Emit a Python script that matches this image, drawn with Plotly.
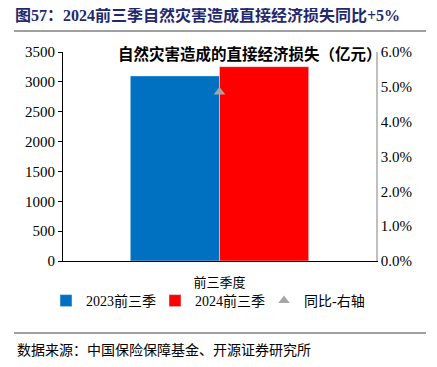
import plotly.graph_objects as go

categories = ["前三季度"]
series_names = ["2023前三季", "2024前三季"]
loss_2023 = [3100]
loss_2024 = [3255]
yoy = [4.85]
left_ticks = [0, 500, 1000, 1500, 2000, 2500, 3000, 3500]
right_ticks = [0, 1, 2, 3, 4, 5, 6]
right_tick_labels = ["0.0%", "1.0%", "2.0%", "3.0%", "4.0%", "5.0%", "6.0%"]

serif = "Liberation Serif, Times New Roman, Noto Sans CJK SC"
cjk = "Noto Sans CJK SC, Liberation Serif"

# page body has an 8px default margin; work in reference pixel coords shifted by it
OFF = 8
W, H = 437, 367
PL, PR, PT, PB = 63 - OFF, 376 - OFF, 52 - OFF, 261 - OFF
pw, ph = PR - PL, PB - PT


def px(x):
    return (x - OFF - PL) / pw


def py(y):
    return (PB - (y - OFF)) / ph


fig = go.Figure()
fig.add_trace(go.Bar(x=categories, y=loss_2023, name=series_names[0], marker_color="#0070C0"))
fig.add_trace(go.Bar(x=categories, y=loss_2024, name=series_names[1], marker_color="#FF0000"))
fig.add_trace(go.Scatter(x=categories, y=yoy, name="同比-右轴", mode="markers", yaxis="y2",
                         marker=dict(symbol="triangle-up", size=10, color="#A6A6A6")))

fig.update_layout(
    width=W, height=H,
    margin=dict(l=PL, r=W - PR, t=PT, b=H - PB, autoexpand=False),
    paper_bgcolor="white", plot_bgcolor="white",
    barmode="group", bargap=0.43, bargroupgap=0,
    showlegend=True,
    legend=dict(orientation="h", xref="paper", yref="paper",
                x=px(46), xanchor="left", bgcolor="rgba(0,0,0,0)",
                y=py(301), yanchor="middle", entrywidth=64, entrywidthmode="pixels",
                font=dict(family=serif, size=14, color="black"), itemwidth=30,
                tracegroupgap=0, traceorder="normal"),
    xaxis=dict(showline=True, linecolor="black", linewidth=1, automargin=False,
               ticks="outside", ticklen=9, tickcolor="rgba(0,0,0,0)",
               tickfont=dict(family=cjk, size=13, color="black"),
               title=None),
    yaxis=dict(range=[0, 3500], tickvals=left_ticks, showgrid=False, zeroline=False,
               showline=True, linecolor="black", linewidth=1, ticks="outside", ticklen=4,
               tickcolor="black", automargin=False,
               tickfont=dict(family=serif, size=15, color="black")),
    yaxis2=dict(range=[0, 6], tickvals=right_ticks, ticktext=right_tick_labels,
                overlaying="y", side="right", automargin=False,
                showgrid=False, zeroline=False, showline=True, linecolor="#BFBFBF",
                linewidth=1.5, ticks="",
                tickfont=dict(family=serif, size=15, color="black")),
    font=dict(family=cjk, color="black"),
)

fig.add_annotation(text="<b>图57：2024前三季自然灾害造成直接经济损失同比+5%</b>",
                   xref="paper", yref="paper", x=px(13), y=py(15), xanchor="left",
                   yanchor="middle", showarrow=False,
                   font=dict(family=serif, size=16, color="#1F2A6E"))
fig.add_annotation(text="<b>自然灾害造成的直接经济损失（亿元）</b>",
                   xref="paper", yref="paper", x=px(250), y=py(53), xanchor="center",
                   yanchor="middle", showarrow=False,
                   font=dict(family=cjk, size=15.5, color="black"))
fig.add_annotation(text="数据来源：中国保险保障基金、开源证券研究所",
                   xref="paper", yref="paper", x=px(15), y=py(349), xanchor="left",
                   yanchor="middle", showarrow=False,
                   font=dict(family=cjk, size=14, color="black"))
fig.add_shape(type="line", xref="paper", yref="paper", x0=px(14), x1=px(426),
              y0=py(31), y1=py(31), line=dict(color="#7F7F7F", width=1.5))
fig.add_shape(type="line", xref="paper", yref="paper", x0=px(14), x1=px(426),
              y0=py(333), y1=py(333), line=dict(color="#7F7F7F", width=1.5))

fig.write_html("out.html")
